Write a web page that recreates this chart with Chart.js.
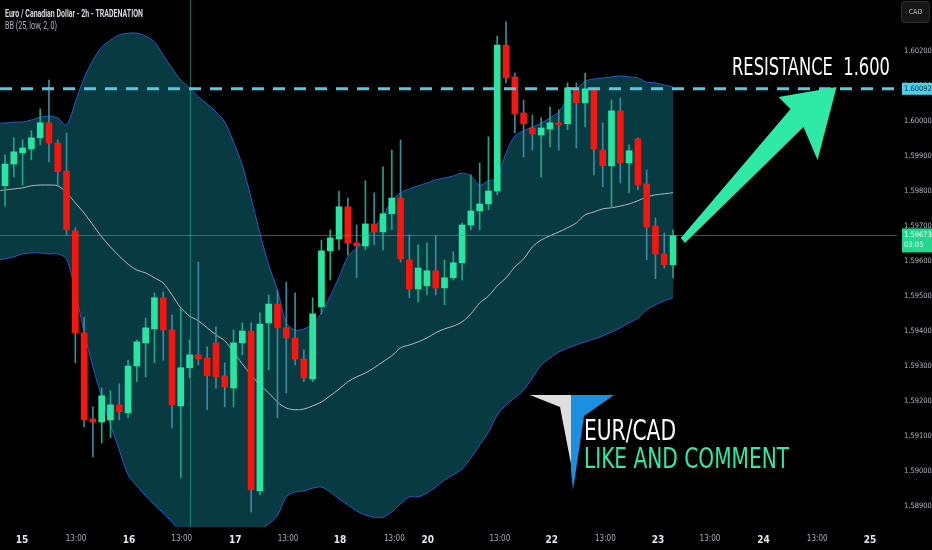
<!DOCTYPE html>
<html>
<head>
<meta charset="utf-8">
<title>EUR/CAD 2h</title>
<script src="https://cdn.jsdelivr.net/npm/chart.js@4.4.1/dist/chart.umd.min.js"></script>
<style>
    html, body { margin: 0; padding: 0; background: #000; }
    #wrap { width: 932px; height: 550px; position: relative; }
</style>
</head>
<body>
<div id="wrap"><canvas id="chart"></canvas></div>
<script>
// Bougies 2h EUR/CAD (index 0 = première bougie visible)
const opens = [
    1.59815, 1.59877, 1.59909, 1.59920, 1.59952, 1.59995, 1.59937, 1.59857, 1.59686, 1.59395,
    1.59149, 1.59140, 1.59146, 1.59189, 1.59166, 1.59300, 1.59366, 1.59406, 1.59495, 1.59403,
    1.59186, 1.59295, 1.59332, 1.59323, 1.59366, 1.59272, 1.59237, 1.59366, 1.59400, 1.58943,
    1.59423, 1.59477, 1.59409, 1.59380, 1.59320, 1.59263, 1.59469, 1.59629, 1.59663, 1.59755,
    1.59652, 1.59643, 1.59706, 1.59683, 1.59735, 1.59780, 1.59603, 1.59520, 1.59529, 1.59572,
    1.59523, 1.59552, 1.59595, 1.59703, 1.59743, 1.59763, 1.59800, 1.60217, 1.60126, 1.60023,
    1.59980, 1.59960, 1.59977, 1.59995, 1.59992, 1.60092, 1.60052, 1.60092, 1.59917, 1.59872,
    1.60029, 1.59880, 1.59949, 1.59820, 1.59700, 1.59620, 1.59589
];
const highs = [
    1.59903, 1.59952, 1.59946, 1.59972, 1.60035, 1.60117, 1.59946, 1.59966, 1.59695, 1.59440,
    1.59183, 1.59237, 1.59229, 1.59249, 1.59317, 1.59375, 1.59437, 1.59509, 1.59512, 1.59446,
    1.59466, 1.59375, 1.59597, 1.59355, 1.59412, 1.59309, 1.59403, 1.59423, 1.59423, 1.59452,
    1.59503, 1.59517, 1.59540, 1.59509, 1.59346, 1.59495, 1.59660, 1.59689, 1.59800, 1.59780,
    1.59703, 1.59829, 1.59795, 1.59869, 1.59917, 1.59946, 1.59675, 1.59646, 1.59652, 1.59672,
    1.59603, 1.59626, 1.59709, 1.59846, 1.59880, 1.59955, 1.60243, 1.60283, 1.60137, 1.60060,
    1.60017, 1.60009, 1.60040, 1.60032, 1.60109, 1.60109, 1.60137, 1.60095, 1.59995, 1.60060,
    1.60066, 1.59932, 1.59952, 1.59860, 1.59723, 1.59680, 1.59689
];
const lows = [
    1.59757, 1.59840, 1.59817, 1.59889, 1.59932, 1.59883, 1.59817, 1.59675, 1.59309, 1.59126,
    1.59040, 1.59080, 1.59095, 1.59146, 1.59152, 1.59255, 1.59269, 1.59309, 1.59317, 1.59123,
    1.58980, 1.59266, 1.59303, 1.59175, 1.59237, 1.59183, 1.59183, 1.59332, 1.58883, 1.58932,
    1.59289, 1.59152, 1.59223, 1.59303, 1.59255, 1.59255, 1.59449, 1.59546, 1.59632, 1.59617,
    1.59552, 1.59632, 1.59646, 1.59632, 1.59689, 1.59597, 1.59495, 1.59483, 1.59503, 1.59503,
    1.59475, 1.59546, 1.59546, 1.59689, 1.59689, 1.59746, 1.59789, 1.60109, 1.59966, 1.59897,
    1.59917, 1.59840, 1.59926, 1.59917, 1.59975, 1.59923, 1.59983, 1.59846, 1.59812, 1.59752,
    1.59823, 1.59795, 1.59803, 1.59603, 1.59549, 1.59580, 1.59552
];
const closes = [
    1.59877, 1.59912, 1.59923, 1.59952, 1.59995, 1.59937, 1.59855, 1.59689, 1.59395, 1.59146,
    1.59140, 1.59215, 1.59189, 1.59169, 1.59300, 1.59369, 1.59409, 1.59495, 1.59403, 1.59189,
    1.59295, 1.59332, 1.59320, 1.59272, 1.59269, 1.59240, 1.59366, 1.59400, 1.58946, 1.59420,
    1.59477, 1.59409, 1.59380, 1.59320, 1.59266, 1.59449, 1.59629, 1.59666, 1.59755, 1.59652,
    1.59643, 1.59706, 1.59683, 1.59735, 1.59780, 1.59606, 1.59520, 1.59580, 1.59572, 1.59523,
    1.59552, 1.59595, 1.59703, 1.59743, 1.59763, 1.59800, 1.60217, 1.60123, 1.60020, 1.59992,
    1.59963, 1.59980, 1.59995, 1.59989, 1.60095, 1.60052, 1.60092, 1.59920, 1.59872, 1.60029,
    1.59880, 1.59915, 1.59817, 1.59697, 1.59620, 1.59589, 1.59673
];

// Bandes de Bollinger BB(25, low, 2, 0) : une valeur de plus, avant la première bougie
const bbUpper = [
    1.59994, 1.59994, 1.59997, 1.59997, 1.60003, 1.60011, 1.60014, 1.60009, 1.59989, 1.60054,
    1.60123, 1.60174, 1.60211, 1.60231, 1.60246, 1.60251, 1.60251, 1.60243, 1.60226, 1.60188,
    1.60151, 1.60117, 1.60094, 1.60069, 1.60049, 1.60026, 1.59997, 1.59940, 1.59874, 1.59780,
    1.59680, 1.59589, 1.59517, 1.59423, 1.59403, 1.59406, 1.59420, 1.59452, 1.59500, 1.59554,
    1.59612, 1.59637, 1.59660, 1.59695, 1.59729, 1.59772, 1.59795, 1.59806, 1.59815, 1.59823,
    1.59832, 1.59837, 1.59843, 1.59851, 1.59843, 1.59817, 1.59829, 1.59837, 1.59909, 1.59957,
    1.59972, 1.59983, 1.59994, 1.60009, 1.60026, 1.60063, 1.60089, 1.60114, 1.60120, 1.60123,
    1.60126, 1.60129, 1.60126, 1.60123, 1.60111, 1.60109, 1.60103, 1.60097
];
const bbBasis = [
    1.59800, 1.59803, 1.59806, 1.59809, 1.59815, 1.59817, 1.59817, 1.59815, 1.59795, 1.59766,
    1.59737, 1.59703, 1.59669, 1.59640, 1.59614, 1.59591, 1.59574, 1.59566, 1.59552, 1.59537,
    1.59503, 1.59466, 1.59443, 1.59429, 1.59409, 1.59389, 1.59372, 1.59340, 1.59306, 1.59274,
    1.59246, 1.59223, 1.59197, 1.59180, 1.59175, 1.59177, 1.59186, 1.59197, 1.59215, 1.59234,
    1.59255, 1.59269, 1.59280, 1.59295, 1.59312, 1.59329, 1.59352, 1.59360, 1.59369, 1.59380,
    1.59395, 1.59406, 1.59414, 1.59426, 1.59449, 1.59480, 1.59500, 1.59529, 1.59552, 1.59583,
    1.59606, 1.59640, 1.59660, 1.59672, 1.59683, 1.59695, 1.59709, 1.59732, 1.59740, 1.59749,
    1.59752, 1.59757, 1.59763, 1.59772, 1.59783, 1.59789, 1.59792, 1.59795
];
const bbLower = [
    1.59603, 1.59606, 1.59612, 1.59620, 1.59623, 1.59623, 1.59620, 1.59620, 1.59606, 1.59511,
    1.59397, 1.59297, 1.59211, 1.59131, 1.59060, 1.58989, 1.58957, 1.58929, 1.58903, 1.58880,
    1.58854, 1.58826, 1.58803, 1.58789, 1.58780, 1.58780, 1.58786, 1.58794, 1.58803, 1.58817,
    1.58831, 1.58849, 1.58874, 1.58926, 1.58940, 1.58943, 1.58951, 1.58954, 1.58940, 1.58920,
    1.58903, 1.58886, 1.58874, 1.58868, 1.58868, 1.58883, 1.58906, 1.58926, 1.58926, 1.58937,
    1.58954, 1.58974, 1.58989, 1.59006, 1.59037, 1.59074, 1.59111, 1.59160, 1.59189, 1.59209,
    1.59231, 1.59266, 1.59303, 1.59323, 1.59340, 1.59351, 1.59360, 1.59369, 1.59377, 1.59386,
    1.59397, 1.59409, 1.59423, 1.59437, 1.59460, 1.59475, 1.59486, 1.59495
];

// Axe du temps (position en nombre de bougies) et axe des prix
const timeTickPos = [1.93, 8.08, 14.1, 20.1, 26.2, 32.2, 38.1, 44.3, 48.1, 56.3, 62.2, 68.3, 74.3, 80.2, 86.3, 92.4, 98.4];
const timeTickLabels = ['15', '13:00', '16', '13:00', '17', '13:00', '18', '13:00', '20', '13:00', '22', '13:00', '23', '13:00', '24', '13:00', '25'];
const priceTicks = [1.589, 1.590, 1.591, 1.592, 1.593, 1.594, 1.595, 1.596, 1.597, 1.598, 1.599, 1.600, 1.601, 1.602];

const resistance = 1.60092;
const lastPrice = 1.59673;
const countdown = '03:05';
const crosshairIndex = 21;

// Couleurs
const UP = '#27e6a2';
const DOWN = '#f4160f';
const UP_WICK = '#22a585';
const DOWN_WICK = '#3b8ba0';
const MINT = '#2fe9a6';
const NARROW = "'Liberation Sans Narrow', 'DejaVu Sans Condensed', 'Roboto', sans-serif";

const idx = opens.map((_, i) => i);
const isUp = idx.map(i => closes[i] >= opens[i]);

// Vrai si le tick de l'axe du temps est une heure (et pas un jour)
function isHourTick(c) {
    const label = timeTickLabels[c && c.index] || '';
    return label.indexOf(':') >= 0;
}

/**
 * Écrit un texte étiré/compressé pour tenir dans une largeur donnée
 */
function fitText(ctx, text, x, y, width, font, color) {
    ctx.save();
    ctx.font = font;
    const w = ctx.measureText(text).width;
    ctx.translate(x, y);
    ctx.scale(width / w, 1);
    ctx.fillStyle = color;
    ctx.textAlign = 'left';
    ctx.textBaseline = 'alphabetic';
    ctx.fillText(text, 0, 0);
    ctx.restore();
}

const overlay = {
    id: 'overlay',
    afterDatasetsDraw(chart) {
        const ctx = chart.ctx;
        const area = chart.chartArea;
        const xs = chart.scales.x;
        const ys = chart.scales.y;

        ctx.save();
        // Ligne verticale du réticule
        const cx = Math.round(xs.getPixelForValue(crosshairIndex)) + 0.5;
        ctx.strokeStyle = 'rgba(45,170,150,0.6)';
        ctx.lineWidth = 1;
        ctx.beginPath();
        ctx.moveTo(cx, 0);
        ctx.lineTo(cx, area.bottom);
        ctx.stroke();

        // Ligne du dernier prix
        const py = Math.round(ys.getPixelForValue(lastPrice)) + 0.5;
        ctx.strokeStyle = 'rgba(40,190,140,0.55)';
        ctx.beginPath();
        ctx.moveTo(area.left, py);
        ctx.lineTo(area.right, py);
        ctx.stroke();

        // Résistance en pointillés
        const ry = ys.getPixelForValue(resistance);
        ctx.strokeStyle = '#55c9e2';
        ctx.lineWidth = 3;
        ctx.setLineDash([12, 9]);
        ctx.beginPath();
        ctx.moveTo(area.left, ry);
        ctx.lineTo(area.right, ry);
        ctx.stroke();
        ctx.setLineDash([]);

        // Flèche verte vers la résistance
        const sx = xs.getPixelForValue(77.0);
        const sy = ys.getPixelForValue(1.59660);
        const tx = xs.getPixelForValue(94.6);
        const ty = ys.getPixelForValue(1.60097);
        ctx.fillStyle = MINT;
        ctx.beginPath();
        ctx.moveTo(sx - 1, sy - 2);
        ctx.lineTo(tx - 46, ty + 22);
        ctx.lineTo(tx - 58, ty + 10);
        ctx.lineTo(tx, ty);
        ctx.lineTo(tx - 19, ty + 73);
        ctx.lineTo(tx - 33, ty + 40);
        ctx.lineTo(sx + 3, sy + 3);
        ctx.closePath();
        ctx.fill();
        ctx.restore();

        // Texte de résistance
        fitText(ctx, 'RESISTANCE  1.600', 732, 75, 158, '24px "DejaVu Sans"', '#ffffff');

        // Logo
        ctx.save();
        ctx.fillStyle = '#dedede';
        ctx.beginPath();
        ctx.moveTo(530, 395);
        ctx.lineTo(571, 395);
        ctx.lineTo(571, 464);
        ctx.lineTo(560, 407);
        ctx.closePath();
        ctx.fill();
        ctx.fillStyle = '#1b8fe0';
        ctx.beginPath();
        ctx.moveTo(571, 395);
        ctx.lineTo(614, 395);
        ctx.lineTo(584, 416);
        ctx.lineTo(573, 490);
        ctx.lineTo(571, 470);
        ctx.closePath();
        ctx.fill();
        ctx.restore();
        fitText(ctx, 'EUR/CAD', 584, 440, 92, '28px "DejaVu Sans"', '#ffffff');
        fitText(ctx, 'LIKE AND COMMENT', 584, 468, 205, '28px "DejaVu Sans"', MINT);
    },
    afterDraw(chart) {
        const ctx = chart.ctx;
        const ys = chart.scales.y;
        ctx.save();

        // Étiquette de la résistance
        const ry = ys.getPixelForValue(resistance);
        ctx.fillStyle = '#4fd0ea';
        ctx.fillRect(902, ry - 6, 30, 12);
        ctx.fillStyle = '#062a33';
        ctx.font = '7.5px ' + NARROW;
        ctx.textAlign = 'left';
        ctx.textBaseline = 'middle';
        ctx.fillText(resistance.toFixed(5), 904, ry + 0.5);

        // Étiquette du dernier prix avec compte à rebours
        const py = ys.getPixelForValue(lastPrice);
        ctx.fillStyle = '#25d68f';
        ctx.fillRect(902, py - 7, 30, 24);
        ctx.fillStyle = '#eafff6';
        ctx.fillText(lastPrice.toFixed(5), 904, py);
        ctx.fillText(countdown, 904, py + 10);

        // Bouton CAD
        ctx.fillStyle = '#161616';
        ctx.strokeStyle = '#2c2c2c';
        ctx.lineWidth = 1;
        ctx.beginPath();
        ctx.roundRect(901.5, 1.5, 28, 21, 3);
        ctx.fill();
        ctx.stroke();
        ctx.fillStyle = '#b2b5be';
        ctx.font = '7px ' + NARROW;
        ctx.textAlign = 'center';
        ctx.fillText('CAD', 915.5, 12.5);
        ctx.restore();

        // Légende en haut à gauche
        fitText(ctx, 'Euro / Canadian Dollar - 2h - TRADENATION', 5, 16.5, 138, 'bold 10px Roboto', '#d8dbe2');
        fitText(ctx, 'BB (25, low, 2, 0)', 5, 29, 52, '10px Roboto', '#b2b5be');
    }
};

const canvas = document.getElementById('chart');
new Chart(canvas.getContext('2d'), {
    type: 'bar',
    data: {
        datasets: [
            {
                type: 'bar',
                label: 'corps',
                data: idx.map(i => ({ x: i, y: [opens[i], closes[i]] })),
                backgroundColor: idx.map(i => isUp[i] ? UP : DOWN),
                borderWidth: 0,
                barThickness: 6,
                minBarLength: 1,
                grouped: false,
                order: 1
            },
            {
                type: 'bar',
                label: 'mèches',
                data: idx.map(i => ({ x: i, y: [lows[i], highs[i]] })),
                backgroundColor: idx.map(i => isUp[i] ? UP_WICK : DOWN_WICK),
                borderWidth: 0,
                barThickness: 1,
                grouped: false,
                order: 2
            },
            {
                type: 'line',
                label: 'BB haute',
                data: bbUpper.map((v, i) => ({ x: i - 1, y: v })),
                borderColor: '#2a56cc',
                borderWidth: 1,
                backgroundColor: '#083a42',
                fill: '+1',
                pointRadius: 0,
                tension: 0.3,
                order: 6
            },
            {
                type: 'line',
                label: 'BB basse',
                data: bbLower.map((v, i) => ({ x: i - 1, y: v })),
                borderColor: '#2a56cc',
                borderWidth: 1,
                fill: false,
                pointRadius: 0,
                tension: 0.3,
                order: 5
            },
            {
                type: 'line',
                label: 'BB base',
                data: bbBasis.map((v, i) => ({ x: i - 1, y: v })),
                borderColor: '#aebcbc',
                borderWidth: 1,
                fill: false,
                pointRadius: 0,
                tension: 0.3,
                order: 4
            }
        ]
    },
    options: {
        responsive: true,
        maintainAspectRatio: false,
        animation: false,
        events: [],
        layout: { padding: 0, autoPadding: false },
        plugins: {
            legend: { display: false },
            tooltip: { enabled: false }
        },
        scales: {
            x: {
                type: 'linear',
                min: -0.57,
                max: 101.48,
                offset: false,
                grid: { display: false, drawTicks: false },
                border: { display: false },
                afterBuildTicks: scale => {
                    scale.ticks = timeTickPos.map(v => ({ value: v }));
                },
                afterFit: scale => {
                    scale.height = 23;
                    scale.paddingLeft = 0;
                    scale.paddingRight = 0;
                },
                ticks: {
                    autoSkip: false,
                    maxRotation: 0,
                    padding: 7,
                    color: c => isHourTick(c) ? '#a9adb6' : '#e6e8ee',
                    font: c => ({
                        family: NARROW,
                        size: isHourTick(c) ? 8 : 10,
                        weight: isHourTick(c) ? 'normal' : 'bold'
                    }),
                    callback: (v, i) => timeTickLabels[i]
                }
            },
            y: {
                type: 'linear',
                position: 'right',
                min: 1.5884,
                max: 1.603457,
                grid: { display: false, drawTicks: false },
                border: { display: false },
                afterBuildTicks: scale => {
                    scale.ticks = priceTicks.map(v => ({ value: v }));
                },
                afterFit: scale => {
                    scale.width = 35;
                    scale.paddingTop = 0;
                    scale.paddingBottom = 0;
                },
                ticks: {
                    padding: 7,
                    color: '#b2b5be',
                    font: { family: NARROW, size: 7.5 },
                    callback: v => v.toFixed(5)
                }
            }
        }
    },
    plugins: [overlay]
});
</script>
</body>
</html>
